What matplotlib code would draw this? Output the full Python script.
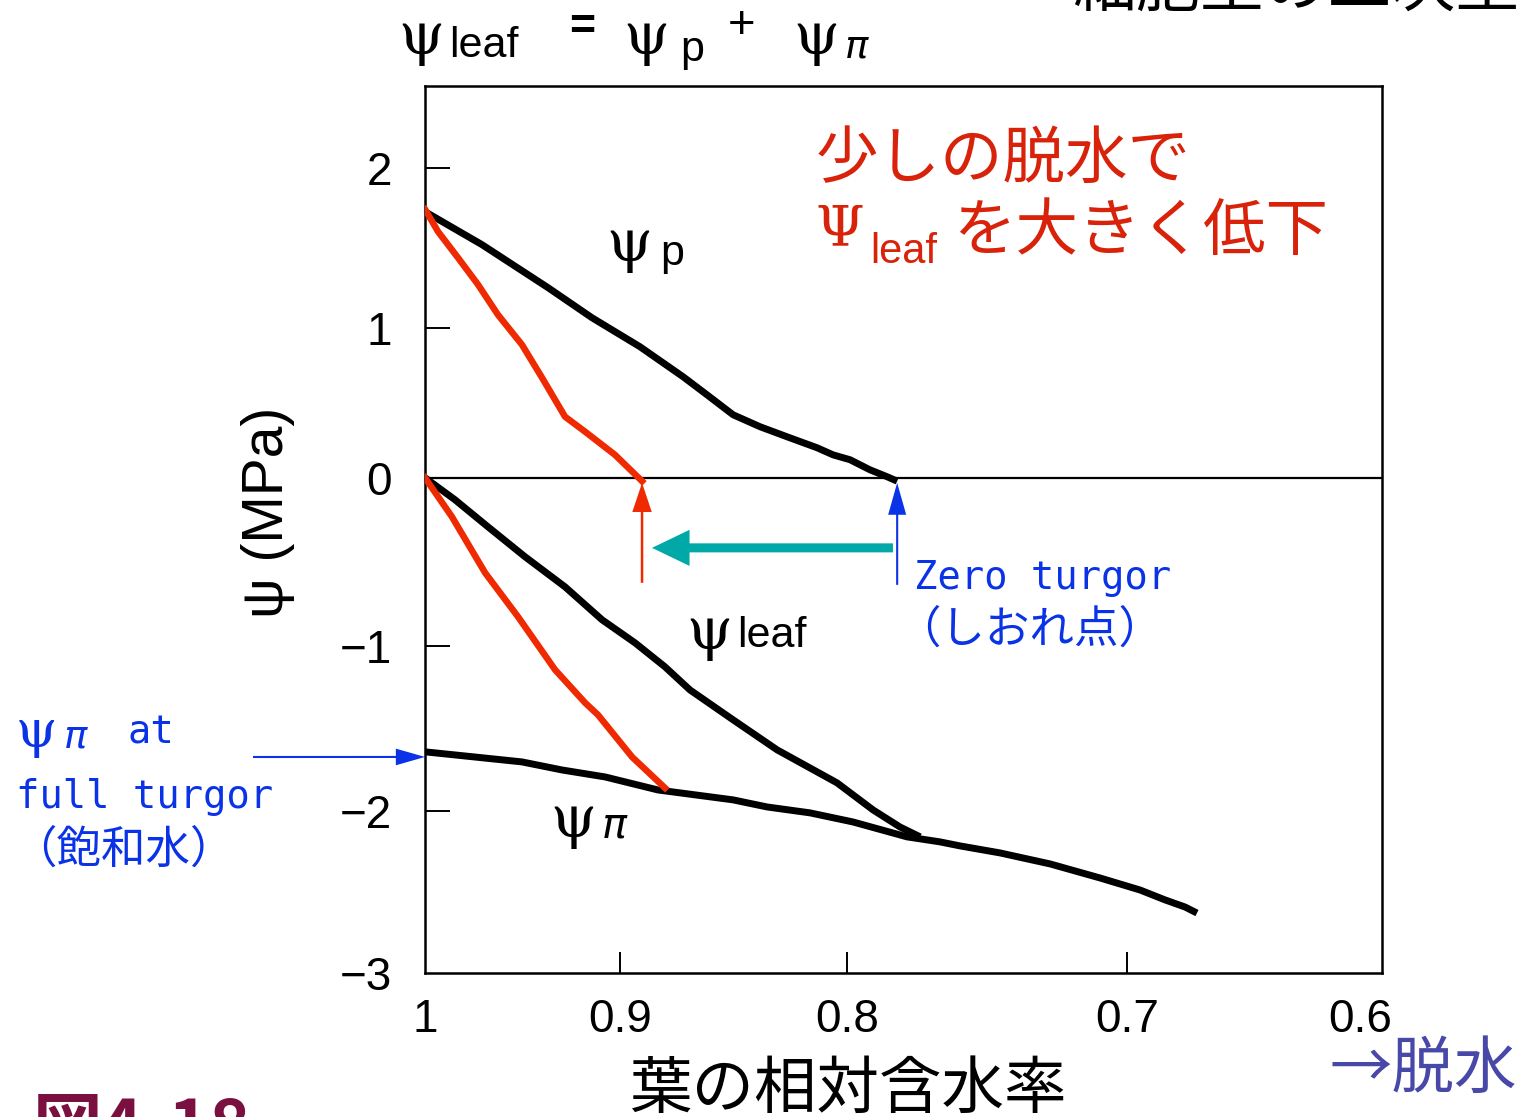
import numpy as np
import matplotlib
matplotlib.use("Agg")
import matplotlib.pyplot as plt

# relative water content (x) and potential in MPa (y)
p_x = [1.0, 0.9708, 0.9369, 0.9144, 0.8912, 0.8722, 0.8617, 0.8502, 0.8383,
       0.8264, 0.8132, 0.8062, 0.7989, 0.7918, 0.7857, 0.7821]
p_y = [1.725, 1.519, 1.25, 1.0625, 0.873, 0.673, 0.553, 0.42, 0.34,
       0.273, 0.2, 0.153, 0.12, 0.053, 0.007, -0.02]

p2_x = [1.0, 0.9933, 0.9831, 0.9728, 0.9626, 0.9503, 0.94, 0.9282, 0.9179,
        0.9026, 0.8903]
p2_y = [1.74, 1.6, 1.4375, 1.269, 1.081, 0.887, 0.667, 0.407, 0.307,
        0.153, -0.02]

leaf_x = [1.0, 0.9846, 0.9677, 0.9487, 0.9282, 0.9092, 0.8934, 0.8802, 0.8692,
          0.8502, 0.8308, 0.8044, 0.7907, 0.7811, 0.7739]
leaf_y = [0.0, -0.131, -0.292, -0.47, -0.649, -0.845, -0.982, -1.127, -1.267,
          -1.448, -1.63, -1.83, -1.994, -2.099, -2.16]

leaf2_x = [1.0, 0.9862, 0.9692, 0.9523, 0.9333, 0.9179, 0.9113, 0.8947, 0.8802]
leaf2_y = [0.0, -0.232, -0.565, -0.827, -1.145, -1.345, -1.418, -1.673, -1.861]

pi_x = [1.0, 0.9503, 0.9297, 0.9077, 0.8833, 0.8502, 0.8352, 0.8163, 0.7979,
        0.7786, 0.7668, 0.7596, 0.7454, 0.7275, 0.7096, 0.6944, 0.6837,
        0.6751, 0.67]
pi_y = [-1.642, -1.703, -1.752, -1.794, -1.873, -1.933, -1.976, -2.012, -2.068,
        -2.16, -2.191, -2.216, -2.259, -2.327, -2.414, -2.488, -2.549,
        -2.593, -2.63]

xticks = [1.0, 0.9, 0.8, 0.7, 0.6]
xticklabels = ["1", "0.9", "0.8", "0.7", "0.6"]
yticks = [-3, -2, -1, 0, 1, 2]
yticklabels = ["\u22123", "\u22122", "\u22121", "0", "1", "2"]

turgor_loss_x = 0.7821      # zero turgor, original leaf
turgor_loss2_x = 0.8903     # zero turgor, red case
full_turgor_pi = -1.673

# the original axis is not evenly spaced, follow its tick positions
sx_val = np.array([0.5, 0.6, 0.7, 0.8, 0.9, 1.0, 1.1])
sx_pos = -np.array([1593, 1360, 1127, 847, 620, 425, 230], dtype=float)
sy_val = np.array([-4, -3, -2, -1, 0, 1, 2, 3], dtype=float)
sy_pos = -np.array([1135, 973, 811, 646, 478, 328, 168, 8], dtype=float)

W, H = 1521, 1117
RED = "#f02a00"
RED_TXT = "#d8220a"
BLUE = "#0a32e6"
TEAL = "#00a8a8"
NUM = ["Liberation Sans", "DejaVu Sans"]
NARROW = ["Liberation Sans Narrow", "Liberation Sans", "DejaVu Sans"]
JP = ["Noto Sans CJK JP", "DejaVu Sans"]
MONO = ["DejaVu Sans Mono", "Noto Sans CJK JP"]
SERIF = ["DejaVu Serif"]
PI = ["DejaVu Sans"]


def fx(px):
    return px / W


def fy(py):
    return 1 - py / H


fig = plt.figure(figsize=(W / 100, H / 100), dpi=100)
ax = fig.add_axes([fx(425), fy(973), fx(1382) - fx(425), fy(86) - fy(973)])

ax.set_xscale("function", functions=(lambda v: np.interp(v, sx_val, sx_pos),
                                     lambda p: np.interp(p, sx_pos, sx_val)))
ax.set_yscale("function", functions=(lambda v: np.interp(v, sy_val, sy_pos),
                                     lambda p: np.interp(p, sy_pos, sy_val)))
ax.set_xlim(1.0, 0.5906)
ax.set_ylim(-3.0, 2.51)

ax.axhline(0, color="black", lw=1.6, zorder=1)

ax.plot(p_x, p_y, color="black", lw=5, solid_capstyle="butt", zorder=3)
ax.plot(leaf_x, leaf_y, color="black", lw=5, solid_capstyle="butt", zorder=3)
ax.plot(pi_x, pi_y, color="black", lw=5, solid_capstyle="butt", zorder=3)
ax.plot(p2_x, p2_y, color=RED, lw=4.7, zorder=4)
ax.plot(leaf2_x, leaf2_y, color=RED, lw=4.7, zorder=4)

for s in ax.spines.values():
    s.set_linewidth(1.8)

ax.set_xticks(xticks)
ax.set_xticklabels(xticklabels, fontfamily=NUM, fontsize=33)
ax.set_yticks(yticks)
ax.set_yticklabels(yticklabels, fontfamily=NUM, fontsize=33)
ax.tick_params(axis="x", direction="in", length=15, width=1.4, pad=18)
ax.tick_params(axis="y", direction="in", length=18, width=1.4, pad=24)
ax.minorticks_off()
xt = ax.xaxis.get_major_ticks()
xt[0].tick1line.set_visible(False)
xt[-1].tick1line.set_visible(False)
yt = ax.yaxis.get_major_ticks()
yt[0].tick1line.set_visible(False)
yt[0].label1.set_y(-2.95)

# arrows
ax.annotate("", xy=(turgor_loss2_x, -0.03), xytext=(turgor_loss2_x, -0.625),
            arrowprops=dict(arrowstyle="simple,head_length=21,head_width=14,tail_width=1.8",
                            mutation_scale=1, color=RED, lw=0, shrinkA=0, shrinkB=0))
ax.annotate("", xy=(turgor_loss_x, -0.03), xytext=(turgor_loss_x, -0.637),
            arrowprops=dict(arrowstyle="simple,head_length=23,head_width=13,tail_width=1.5",
                            mutation_scale=1, color=BLUE, lw=0, shrinkA=0, shrinkB=0))
ax.annotate("", xy=(0.8859, -0.417), xytext=(0.7836, -0.417),
            arrowprops=dict(arrowstyle="simple,head_length=27,head_width=26,tail_width=6.5",
                            mutation_scale=1, color=TEAL, lw=0, shrinkA=0, shrinkB=0))
ax.annotate("", xy=(1.0, full_turgor_pi), xycoords="data",
            xytext=(fx(253), fy(757)), textcoords="figure fraction",
            arrowprops=dict(arrowstyle="simple,head_length=21,head_width=12,tail_width=1.5",
                            mutation_scale=1, color=BLUE, lw=0, shrinkA=0, shrinkB=0),
            annotation_clip=False)

# equation on top
fig.text(fx(398), fy(38), "\u03c8", fontfamily=SERIF, fontsize=42, ha="left", va="center")
fig.text(fx(449), fy(46), "leaf", fontfamily=NARROW, fontsize=31, ha="left", va="center")
fig.text(fx(582), fy(28), "=", fontfamily=NUM, fontsize=32, ha="center", va="center",
         fontweight="bold")
fig.text(fx(623), fy(38), "\u03c8", fontfamily=SERIF, fontsize=42, ha="left", va="center")
fig.text(fx(680), fy(50), "p", fontfamily=NUM, fontsize=31, ha="left", va="center")
fig.text(fx(742), fy(26), "+", fontfamily=NUM, fontsize=34, ha="center", va="center")
fig.text(fx(793), fy(38), "\u03c8", fontfamily=SERIF, fontsize=42, ha="left", va="center")
fig.text(fx(845), fy(46), "\u03c0", fontfamily=PI, fontsize=28, ha="left", va="center",
         style="italic")

# curve labels
fig.text(fx(606), fy(245), "\u03c8", fontfamily=SERIF, fontsize=42, ha="left", va="center")
fig.text(fx(660), fy(254), "p", fontfamily=NUM, fontsize=31, ha="left", va="center")
fig.text(fx(686), fy(633), "\u03c8", fontfamily=SERIF, fontsize=42, ha="left", va="center")
fig.text(fx(737), fy(636), "leaf", fontfamily=NARROW, fontsize=31, ha="left", va="center")
fig.text(fx(550), fy(821), "\u03c8", fontfamily=SERIF, fontsize=42, ha="left", va="center")
fig.text(fx(602), fy(826), "\u03c0", fontfamily=PI, fontsize=30, ha="left", va="center",
         style="italic")

# red note
fig.text(fx(816), fy(160), "少しの脱水で", fontfamily=JP, fontsize=45, color=RED_TXT,
         ha="left", va="center")
fig.text(fx(815), fy(230), "\u03a8", fontfamily=SERIF, fontsize=40, color=RED_TXT,
         ha="left", va="center")
fig.text(fx(870), fy(252), "leaf", fontfamily=NARROW, fontsize=30, color=RED_TXT,
         ha="left", va="center")
fig.text(fx(953), fy(232), "を大きく低下", fontfamily=JP, fontsize=45, color=RED_TXT,
         ha="left", va="center")

# zero turgor label
fig.text(fx(914), fy(578), "Zero turgor", fontfamily=MONO, fontsize=28, color=BLUE,
         ha="left", va="center")
fig.text(fx(896), fy(630), "（しおれ点）", fontfamily=JP, fontsize=32, color=BLUE,
         ha="left", va="center")

# full turgor label
fig.text(fx(16), fy(733), "\u03c8", fontfamily=SERIF, fontsize=38, color=BLUE,
         ha="left", va="center")
fig.text(fx(64), fy(737), "\u03c0", fontfamily=PI, fontsize=28, color=BLUE,
         ha="left", va="center", style="italic")
fig.text(fx(128), fy(733), "at", fontfamily=MONO, fontsize=28, color=BLUE,
         ha="left", va="center")
fig.text(fx(16), fy(797), "full turgor", fontfamily=MONO, fontsize=28, color=BLUE,
         ha="left", va="center")
fig.text(fx(12), fy(850), "（飽和水）", fontfamily=JP, fontsize=32, color=BLUE,
         ha="left", va="center")

# axis titles
fig.text(fx(268), fy(512), "\u03c8 (MPa)", fontfamily=NUM, fontsize=41, rotation=90,
         ha="center", va="center")
fig.text(fx(848), fy(1090), "葉の相対含水率", fontfamily=JP, fontsize=45,
         ha="center", va="center")
fig.text(fx(1330), fy(1070), "→脱水", fontfamily=JP, fontsize=45, color="#4848a8",
         ha="left", va="center")

# cut-off figure number and heading
fig.text(fx(33), fy(1094), "図4-18", fontfamily=JP, fontsize=50, fontweight="bold",
         color="#7a1040", ha="left", va="top")
fig.text(fx(1072), fy(6), "細胞壁の二次壁", fontfamily=JP, fontsize=46,
         ha="left", va="baseline")

fig.savefig("out.png", dpi=100)
